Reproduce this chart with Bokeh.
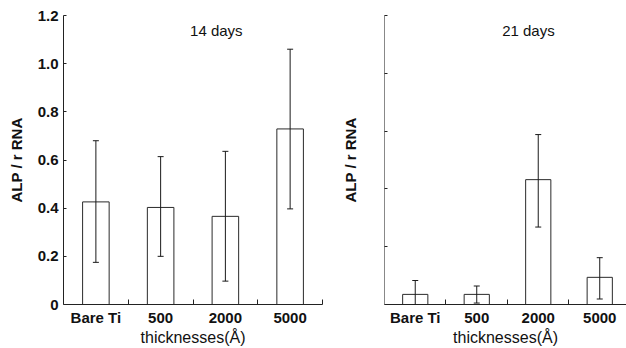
from bokeh.plotting import figure
from bokeh.layouts import row
from bokeh.models import ColumnDataSource, Whisker, TeeHead, FixedTicker, Label, Range1d
from bokeh.embed import file_html
from bokeh.resources import INLINE

categories = ["Bare Ti", "500", "2000", "5000"]
positions = [1, 2, 3, 4]
boundaries = [1.5, 2.5, 3.5, 4.5]

alp_14 = [0.426, 0.403, 0.366, 0.729]
upper_14 = [0.680, 0.614, 0.636, 1.060]
lower_14 = [0.175, 0.200, 0.097, 0.397]

alp_21 = [0.035, 0.035, 0.432, 0.094]
upper_21 = [0.083, 0.064, 0.588, 0.162]
lower_21 = [0.000, 0.005, 0.268, 0.019]

y_ticks_14 = [0, 0.2, 0.4, 0.6, 0.8, 1.0, 1.2]
y_labels_14 = ["0", "0.2", "0.4", "0.6", "0.8", "1.0", "1.2"]
y_ticks_21 = [0, 0.2, 0.4, 0.6, 0.8, 1.0]

FONT = "Liberation Sans"


def panel(values, upper, lower, title, title_x, title_y, y_max, y_ticks, y_labels,
          x_end, width, border_left, border_right, yaxis_color, label_standoff):
    p = figure(width=width, height=348, output_backend="svg", toolbar_location=None,
               x_range=Range1d(0.5, x_end), y_range=Range1d(0, y_max),
               min_border_left=border_left, min_border_right=border_right,
               min_border_top=15, min_border_bottom=44)
    p.outline_line_color = None
    p.grid.visible = False
    p.background_fill_color = "white"
    p.border_fill_color = "white"

    src = ColumnDataSource(dict(x=positions, top=values, upper=upper, lower=lower))
    p.vbar(x="x", top="top", width=0.41, source=src, fill_color="white",
           line_color="#2a2a2a", line_width=1)
    w = Whisker(source=src, base="x", upper="upper", lower="lower",
                line_color="#1a1a1a", line_width=1, level="annotation",
                upper_head=TeeHead(size=6, line_color="#1a1a1a", line_width=1),
                lower_head=TeeHead(size=6, line_color="#1a1a1a", line_width=1))
    p.add_layout(w)

    p.xaxis.ticker = FixedTicker(ticks=positions, minor_ticks=boundaries)
    p.xaxis.major_label_overrides = {pos: c for pos, c in zip(positions, categories)}
    p.xaxis.major_tick_in = 0
    p.xaxis.major_tick_out = 0
    p.xaxis.minor_tick_in = 5
    p.xaxis.minor_tick_out = 0
    p.xaxis.minor_tick_line_color = "#222222"
    p.xaxis.axis_line_color = "#222222"
    p.xaxis.major_label_text_font = FONT
    p.xaxis.major_label_text_font_size = "15px"
    p.xaxis.major_label_text_font_style = "bold"
    p.xaxis.major_label_text_color = "#111111"
    p.xaxis.major_label_standoff = 4
    p.xaxis.axis_label = "thicknesses(Å)"
    p.xaxis.axis_label_text_font = FONT
    p.xaxis.axis_label_text_font_size = "16px"
    p.xaxis.axis_label_text_font_style = "normal"
    p.xaxis.axis_label_text_color = "#111111"
    p.xaxis.axis_label_standoff = 0

    p.yaxis.ticker = FixedTicker(ticks=y_ticks, minor_ticks=[])
    if y_labels is not None:
        p.yaxis.major_label_overrides = {t: l for t, l in zip(y_ticks, y_labels)}
    else:
        p.yaxis.major_label_overrides = {t: "" for t in y_ticks}
    p.yaxis.major_tick_in = 3
    p.yaxis.major_tick_out = 0
    p.yaxis.major_tick_line_color = "#222222"
    p.yaxis.axis_line_color = yaxis_color
    p.yaxis.major_label_text_font = FONT
    p.yaxis.major_label_text_font_size = "15px"
    p.yaxis.major_label_text_font_style = "bold"
    p.yaxis.major_label_text_color = "#111111"
    p.yaxis.major_label_standoff = 5
    p.yaxis.axis_label = "ALP / r RNA"
    p.yaxis.axis_label_text_font = FONT
    p.yaxis.axis_label_text_font_size = "15px"
    p.yaxis.axis_label_text_font_style = "bold"
    p.yaxis.axis_label_text_color = "#111111"
    p.yaxis.axis_label_standoff = label_standoff

    p.add_layout(Label(x=title_x, y=title_y, text=title, text_font=FONT,
                       text_font_size="15px", text_color="#111111",
                       text_align="center", text_baseline="middle"))
    return p


p1 = panel(alp_14, upper_14, lower_14, "14 days", 2.86, 1.137, 1.2,
           y_ticks_14, y_labels_14, 4.5, 323, 63, 1, "#222222", 10)
p2 = panel(alp_21, upper_21, lower_21, "21 days", 2.84, 0.949, 1.0,
           y_ticks_21, None, 4.435, 303, 61, 0, "#888888", 26)

layout = row(p1, p2, spacing=0)
open("out.html", "w").write(file_html(layout, INLINE))
